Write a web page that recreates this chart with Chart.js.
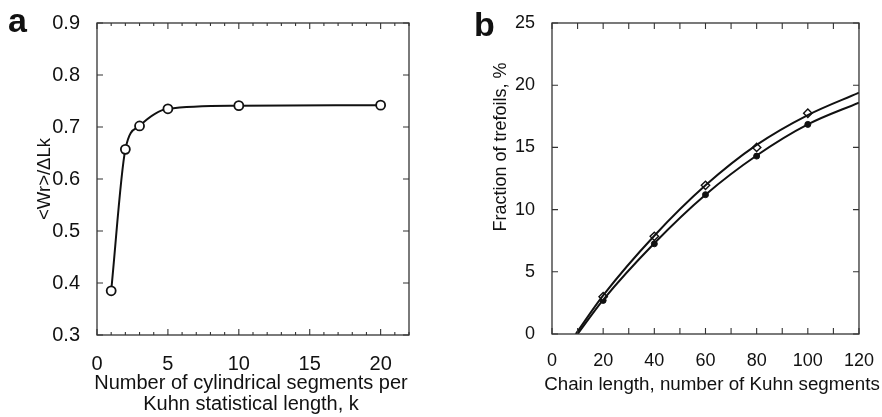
<!DOCTYPE html>
<html lang="en">
<head>
<meta charset="UTF-8">
<title>Writhe and trefoil fraction</title>
<style>
  body{margin:0;background:#fff;width:882px;height:417px;position:relative;overflow:hidden;font-family:"Liberation Sans",Arial,sans-serif}
  .panel{position:absolute;top:0;width:441px;height:417px}
  .tag{position:absolute;font-size:34px;line-height:34px;font-weight:bold;color:#111}
</style>
</head>
<body>
<div class="panel" style="left:0"><canvas id="chartA" width="441" height="417"></canvas></div>
<div class="panel" style="left:441px"><canvas id="chartB" width="441" height="417"></canvas></div>
<div class="tag" style="left:8px;top:3px">a</div>
<div class="tag" style="left:474px;top:7px">b</div>

<script src="https://cdn.jsdelivr.net/npm/chart.js"></script>
<script>
  // panel a
  const segK = [1, 2, 3, 5, 10, 20];
  const wrRatio = [0.385, 0.657, 0.702, 0.735, 0.741, 0.742];

  // panel b - markers
  const chainN = [20, 40, 60, 80, 100];
  const trefoilOpen = [3.0, 7.85, 11.95, 15.0, 17.75];
  const trefoilFilled = [2.7, 7.25, 11.2, 14.3, 16.85];
  // panel b - fitted curves
  const curveOpenX = [9.3, 20, 40, 60, 80, 100, 120];
  const curveOpenY = [0, 3.1, 7.9, 11.95, 15.2, 17.6, 19.4];
  const curveFilledX = [10, 20, 40, 60, 80, 100, 120];
  const curveFilledY = [0, 2.75, 7.3, 11.2, 14.35, 16.85, 18.6];

  const FONT = '"Liberation Sans", Arial, sans-serif';
  const INK = '#111';

  function pts(xs, ys){
    return xs.map((v, i) => ({x: v, y: ys[i]}));
  }

  // box + inward ticks on all 4 sides, and axis titles placed freely
  // (the built-in title squeezes text wider than the plot)
  const framePlugin = {
    id: 'frame',
    afterDatasetsDraw(chart, args, opts) {
      const {ctx, chartArea: a, scales: {x, y}} = chart;
      ctx.save();
      ctx.strokeStyle = '#333';
      ctx.lineWidth = 1.3;
      ctx.strokeRect(a.left, a.top, a.right - a.left, a.bottom - a.top);
      ctx.lineWidth = 1.1;
      ctx.beginPath();
      x.ticks.forEach(t => {
        const px = x.getPixelForValue(t.value);
        const len = t.label !== '' ? opts.major : opts.minor;
        ctx.moveTo(px, a.bottom); ctx.lineTo(px, a.bottom - len);
        ctx.moveTo(px, a.top); ctx.lineTo(px, a.top + len);
      });
      y.ticks.forEach(t => {
        const py = y.getPixelForValue(t.value);
        ctx.moveTo(a.left, py); ctx.lineTo(a.left + opts.major, py);
        ctx.moveTo(a.right, py); ctx.lineTo(a.right - opts.major, py);
      });
      ctx.stroke();

      ctx.fillStyle = INK;
      ctx.textAlign = 'center';
      ctx.textBaseline = 'middle';
      const xt = opts.xTitle;
      ctx.font = xt.size + 'px ' + FONT;
      xt.lines.forEach((line, i) => ctx.fillText(line, xt.x, xt.y + i * xt.gap));

      const yt = opts.yTitle;
      ctx.translate(yt.x, yt.y);
      ctx.rotate(-Math.PI / 2);
      ctx.font = yt.size + 'px ' + FONT;
      ctx.fillText(yt.text, 0, 0);
      ctx.restore();
    }
  };

  const chartA = new Chart(document.getElementById('chartA'), {
    type: 'line',
    data: {
      datasets: [{
        data: pts(segK, wrRatio),
        borderColor: INK,
        borderWidth: 2,
        cubicInterpolationMode: 'monotone',
        pointStyle: 'circle',
        pointRadius: 4.5,
        pointBorderWidth: 1.8,
        pointBorderColor: INK,
        pointBackgroundColor: '#fff'
      }]
    },
    options: {
      responsive: false,
      animation: false,
      layout: {padding: {top: 23, right: 32, left: 0, bottom: 0}},
      plugins: {
        legend: {display: false}, tooltip: {enabled: false},
        frame: {
          major: 6, minor: 3,
          xTitle: {x: 251, y: 383, gap: 21, size: 20,
                   lines: ['Number of cylindrical segments per', 'Kuhn statistical length, k']},
          yTitle: {x: 45, y: 179, size: 18.5, text: '<Wr>/\u0394Lk'}
        }
      },
      scales: {
        x: {
          type: 'linear', min: 0, max: 22,
          grid: {display: false}, border: {display: false},
          afterFit(s){ s.height = 82; },
          ticks: {
            stepSize: 1, autoSkip: false, maxRotation: 0, padding: 9,
            color: INK, font: {family: FONT, size: 20},
            callback: v => (v % 5 === 0 ? String(v) : '')
          }
        },
        y: {
          min: 0.3, max: 0.9,
          grid: {display: false}, border: {display: false},
          afterFit(s){ s.width = 97; },
          ticks: {
            stepSize: 0.1, padding: 9, color: INK,
            font: {family: FONT, size: 20},
            callback: v => v.toFixed(1)
          }
        }
      }
    },
    plugins: [framePlugin]
  });

  const chartB = new Chart(document.getElementById('chartB'), {
    type: 'line',
    data: {
      datasets: [
        {
          data: pts(curveOpenX, curveOpenY),
          borderColor: INK, borderWidth: 2,
          cubicInterpolationMode: 'monotone', pointRadius: 0
        },
        {
          data: pts(curveFilledX, curveFilledY),
          borderColor: INK, borderWidth: 2,
          cubicInterpolationMode: 'monotone', pointRadius: 0
        },
        {
          data: pts(chainN, trefoilOpen),
          showLine: false,
          pointStyle: 'rectRot', pointRadius: 4.2, pointBorderWidth: 1.4,
          pointBorderColor: INK, pointBackgroundColor: '#fff'
        },
        {
          data: pts(chainN, trefoilFilled),
          showLine: false,
          pointStyle: 'circle', pointRadius: 3, pointBorderWidth: 1,
          pointBorderColor: INK, pointBackgroundColor: INK
        }
      ]
    },
    options: {
      responsive: false,
      animation: false,
      layout: {padding: {top: 23, right: 17, left: 0, bottom: 0}},
      plugins: {
        legend: {display: false}, tooltip: {enabled: false},
        frame: {
          major: 6, minor: 6,
          xTitle: {x: 271, y: 385, gap: 0, size: 18.75, lines: ['Chain length, number of Kuhn segments']},
          yTitle: {x: 60, y: 147, size: 18, text: 'Fraction of trefoils, %'}
        }
      },
      scales: {
        x: {
          type: 'linear', min: 0, max: 120,
          grid: {display: false}, border: {display: false},
          afterFit(s){ s.height = 83; },
          ticks: {
            stepSize: 10, autoSkip: false, maxRotation: 0, padding: 8,
            color: INK, font: {family: FONT, size: 18},
            callback: v => (v % 20 === 0 ? String(v) : '')
          }
        },
        y: {
          min: 0, max: 25,
          grid: {display: false}, border: {display: false},
          afterFit(s){ s.width = 111; },
          ticks: {
            stepSize: 5, padding: 9, color: INK,
            font: {family: FONT, size: 18}
          }
        }
      }
    },
    plugins: [framePlugin]
  });
</script>
</body>
</html>
